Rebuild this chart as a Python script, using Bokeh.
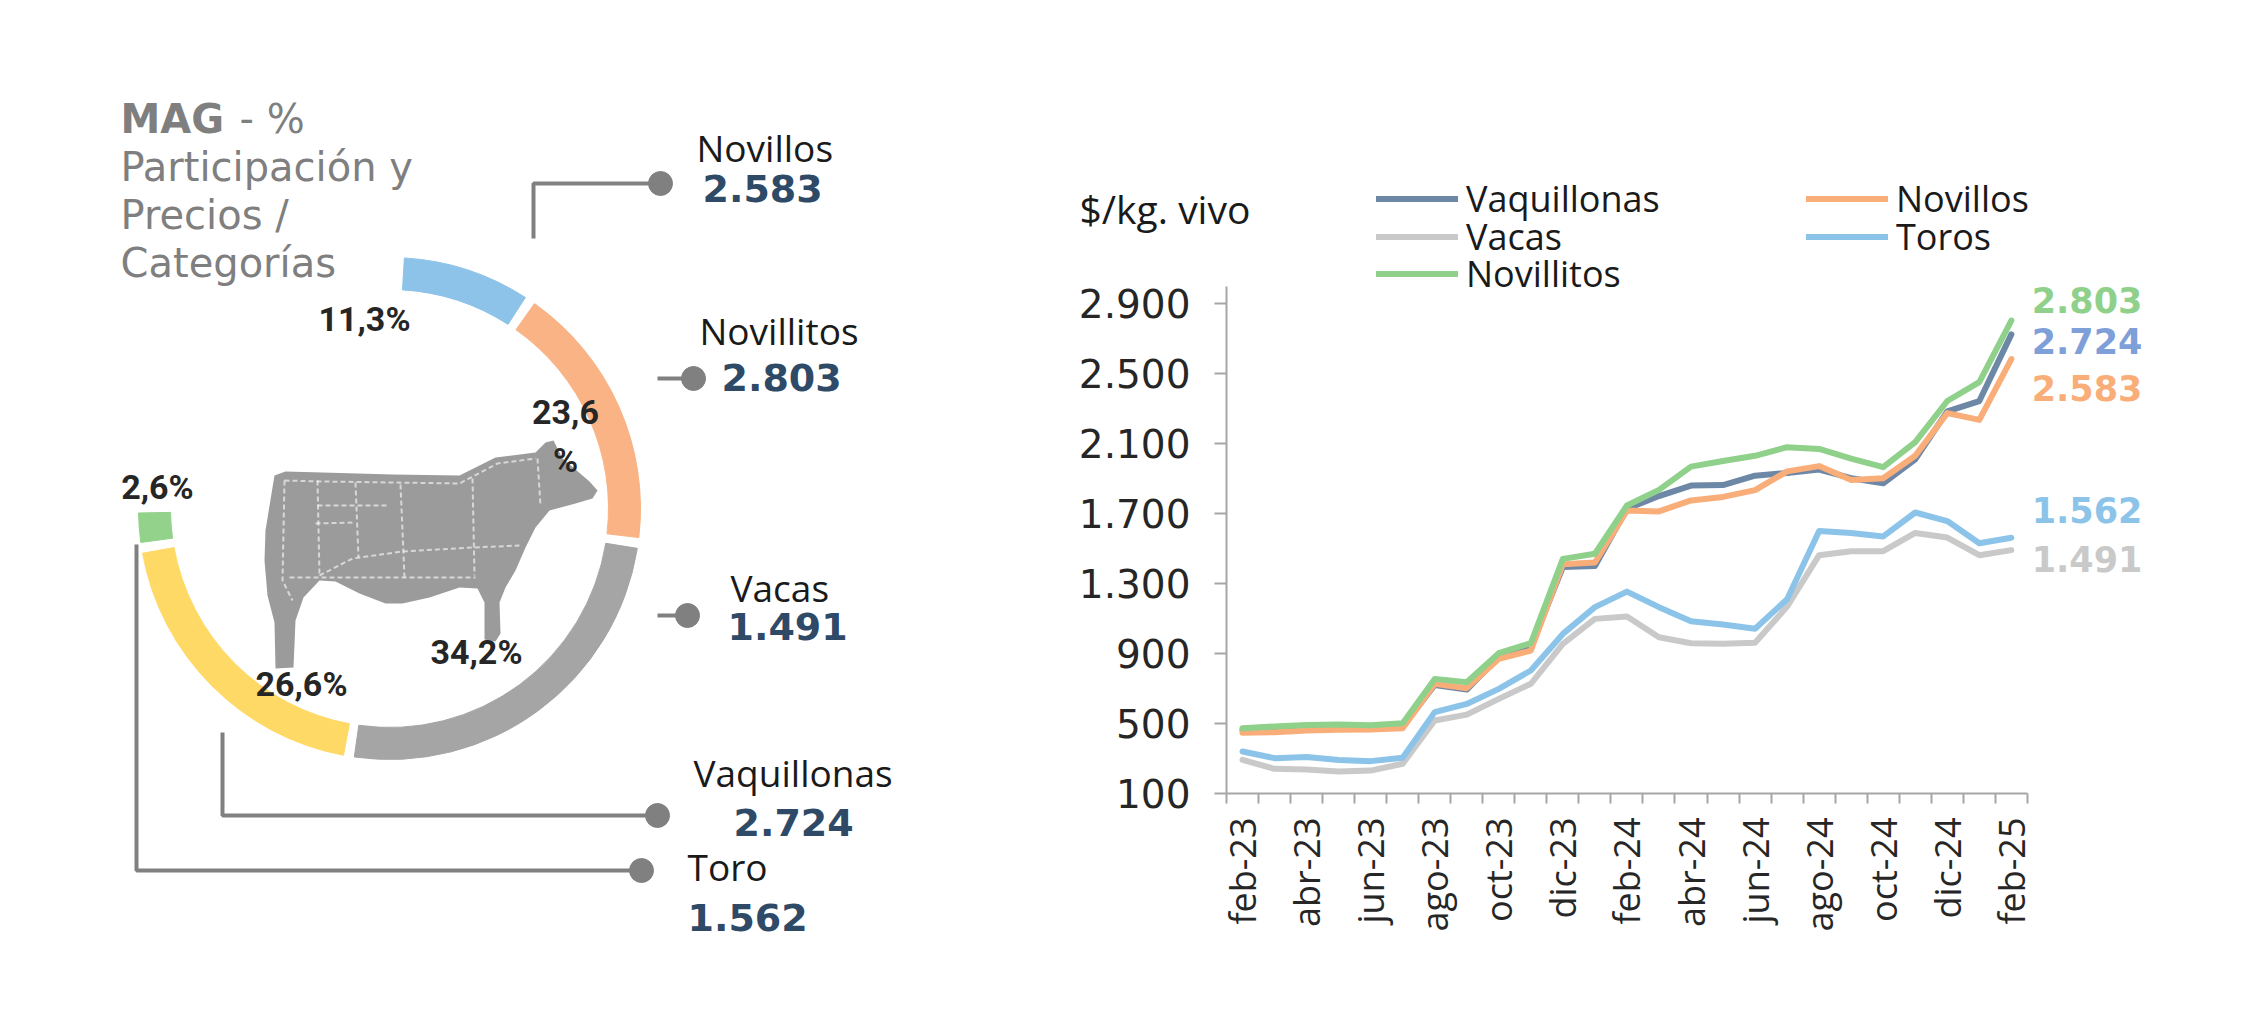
import math

from bokeh.core.properties import value
from bokeh.embed import file_html
from bokeh.layouts import row
from bokeh.models import ColumnDataSource, FixedTicker, Label, Legend, LegendItem, Range1d, Title
from bokeh.plotting import figure
from bokeh.resources import INLINE

# ─── data ───────────────────────────────────────────────────────────────────
months = ["feb-23", "mar-23", "abr-23", "may-23", "jun-23", "jul-23", "ago-23",
          "sep-23", "oct-23", "nov-23", "dic-23", "ene-24", "feb-24", "mar-24",
          "abr-24", "may-24", "jun-24", "jul-24", "ago-24", "sep-24", "oct-24",
          "nov-24", "dic-24", "ene-25", "feb-25"]

vaquillonas = [462, 468, 476, 478, 476, 482, 720, 694, 880, 935, 1395, 1400, 1727,
               1800, 1860, 1863, 1916, 1932, 1951, 1902, 1873, 2010, 2284, 2343, 2724]
novillos    = [447, 450, 460, 464, 466, 473, 727, 702, 870, 917, 1410, 1420, 1717,
               1712, 1775, 1795, 1834, 1941, 1971, 1892, 1902, 2030, 2274, 2235, 2583]
vacas       = [292, 241, 237, 226, 231, 270, 517, 551, 641, 727, 955, 1098, 1112,
               993, 959, 956, 962, 1168, 1462, 1485, 1485, 1589, 1563, 1462, 1491]
toros       = [340, 302, 308, 292, 285, 304, 565, 612, 698, 803, 1012, 1165, 1254,
               1165, 1084, 1066, 1042, 1210, 1600, 1589, 1569, 1706, 1657, 1530, 1562]
novillitos  = [473, 483, 492, 494, 490, 502, 755, 736, 902, 959, 1441, 1470, 1746,
               1835, 1968, 2000, 2030, 2079, 2069, 2014, 1965, 2108, 2343, 2451, 2803]

y_ticks = [100, 500, 900, 1300, 1700, 2100, 2500, 2900]

# donut: share of each category (%)
donut_cats  = ["Toros", "Novillos", "Vacas", "Vaquillonas", "Novillitos"]
donut_share = [11.3, 23.6, 34.2, 26.6, 2.6]

# callouts: category and price ($/kg vivo)
callout_cats   = ["Novillos", "Novillitos", "Vacas", "Vaquillonas", "Toro"]
callout_prices = [2583, 2803, 1491, 2724, 1562]


def fmt(v):
    return f"{v:,}".replace(",", ".")


# ─── styles ─────────────────────────────────────────────────────────────────
DONUT_COLORS = ["#8DC3E9", "#F9B384", "#A5A5A5", "#FFD966", "#92D28A"]
LINE_COLORS = {"Vaquillonas": "#6D87A6", "Novillos": "#F9AE7A", "Vacas": "#C9C9C9",
               "Toros": "#8CC4E9", "Novillitos": "#8FD18A"}
END_COLORS = {"Vaquillonas": "#7E9FD8", "Novillos": "#F9AE7A", "Vacas": "#C9C9C9",
              "Toros": "#8CC4E9", "Novillitos": "#8FD18A"}
AXIS_GREY = "#A6A6A6"
CALLOUT_GREY = "#808080"
VALUE_BLUE = "#2E4A66"

# ─── left panel: donut + callouts (image pixel coords, y flipped) ───────────
L = figure(width=1000, height=1018, x_range=Range1d(8, 1008), y_range=Range1d(-1018, 0),
           output_backend="svg", toolbar_location=None, min_border=0,
           x_axis_location=None, y_axis_location=None, frame_align=False)
L.grid.visible = False
L.outline_line_color = None

CX, CY, R_IN, R_OUT = 397, 508, 219, 251
K_DEG, GAP_DEG, START_DEG = 2.6, 2.5, 3.4   # degrees per %, gap, start (clockwise from top)
starts, ends = [], []
a = START_DEG
for s in donut_share:
    starts.append(math.radians(90 - a))
    a += s * K_DEG
    ends.append(math.radians(90 - a))
    a += GAP_DEG
L.annular_wedge(x=CX, y=-CY, inner_radius=R_IN, outer_radius=R_OUT,
                start_angle="start", end_angle="end", direction="clock", color="color",
                source=ColumnDataSource(dict(start=starts, end=ends, color=DONUT_COLORS)))

# cow silhouette (decoration)
cow_x = [282, 293, 330, 400, 467, 483, 503, 543, 553, 561, 570, 583, 597, 605, 600, 583,
         557, 543, 533, 523, 513, 507, 508, 503, 492, 492, 485, 467, 437, 410, 393, 367,
         343, 327, 311, 303, 301, 283, 282, 275, 272, 273, 280]
cow_y = [475, 471, 472, 474, 475, 467, 457, 452, 442, 440, 458, 469, 481, 490, 498, 503,
         510, 527, 547, 570, 587, 602, 633, 641, 639, 602, 588, 587, 597, 603, 603, 593,
         581, 580, 597, 620, 667, 668, 622, 595, 560, 530, 487]
L.patch(cow_x, [-y for y in cow_y], fill_color="#9B9B9B", line_color=None)
cut_xs = [[292, 330, 400, 467, 505, 543], [325, 327], [363, 366], [408, 412], [480, 482],
          [545, 548], [327, 360, 410, 480, 527], [325, 396], [323, 362], [297, 483],
          [292, 290, 300]]
cut_ys = [[480, 481, 482, 483, 463, 458], [480, 575], [482, 557], [484, 577], [478, 575],
          [458, 505], [575, 558, 551, 547, 545], [505, 505], [523, 522], [577, 577],
          [480, 580, 600]]
L.multi_line(cut_xs, [[-y for y in ys] for ys in cut_ys], line_color="white",
             line_alpha=0.6, line_width=2, line_dash="5 3")

# percentage labels
pct_pos = [(372, 318), (573, 435), (484, 651), (309, 683), (165, 486)]
pct_wrap = [False, True, False, False, False]
pct_text = []
for s, w in zip(donut_share, pct_wrap):
    t = f"{s:.1f}".replace(".", ",")
    pct_text.append(t + ("\n%" if w else "%"))
L.text(x=[p[0] for p in pct_pos], y=[-p[1] for p in pct_pos], text=pct_text,
       text_font=value("Roboto"), text_font_style="bold",
       text_font_size="34px", text_color="#262626", text_align="center",
       text_baseline="middle", text_line_height=1.2)

# callout lines and dots
path_xs = [[541, 541, 668], [665, 701], [665, 695], [230, 230, 665], [144, 144, 649]]
path_ys = [[238, 183, 183], [378, 378], [615, 615], [732, 815, 815], [544, 870, 870]]
L.multi_line(path_xs, [[-y for y in ys] for ys in path_ys], line_color=CALLOUT_GREY, line_width=4)
L.scatter([xs[-1] for xs in path_xs], [-ys[-1] for ys in path_ys], size=24,
          color=CALLOUT_GREY)

name_pos = [(704, 147), (707, 330), (738, 587), (701, 772), (695, 866)]
value_pos = [(710, 188), (729, 377), (735, 626), (741, 822), (695, 917)]
L.text(x=[p[0] for p in name_pos], y=[-p[1] for p in name_pos], text=callout_cats,
       text_font=value("Open Sans"), text_font_size="37px", text_color="#1A1A1A",
       text_baseline="middle")
L.text(x=[p[0] for p in value_pos], y=[-p[1] for p in value_pos],
       text=[fmt(v) for v in callout_prices], text_font=value("DejaVu Sans"),
       text_font_style="bold", text_font_size="38px", text_color=VALUE_BLUE,
       text_baseline="middle")

# title
L.text(x=[128], y=[-118], text=["MAG"], text_font=value("DejaVu Sans"), text_font_style="bold",
       text_font_size="40px", text_color="#7F7F7F", text_baseline="middle")
L.text(x=[247, 128, 128, 128], y=[-118, -166, -214, -262],
       text=["- %", "Participación  y", "Precios /", "Categorías"],
       text_font=value("DejaVu Sans"), text_font_size="40px", text_color="#7F7F7F",
       text_baseline="middle")

# ─── right panel: price lines ───────────────────────────────────────────────
# frame extends above/right of the axes so legend and end labels stay inside it
R = figure(width=1226, height=1018, x_range=Range1d(-0.5, 28.5), y_range=Range1d(100, 3649),
           output_backend="svg", toolbar_location=None, frame_align=False,
           min_border_left=226, min_border_right=71, min_border_top=172, min_border_bottom=225)
R.grid.visible = False
R.outline_line_color = None

src = ColumnDataSource(dict(x=list(range(len(months))), Vaquillonas=vaquillonas,
                            Novillos=novillos, Vacas=vacas, Toros=toros, Novillitos=novillitos))
series = {"Vaquillonas": vaquillonas, "Novillos": novillos, "Vacas": vacas,
          "Toros": toros, "Novillitos": novillitos}
renderers = {}
for name in ["Vacas", "Toros", "Vaquillonas", "Novillos", "Novillitos"]:
    renderers[name] = R.line("x", name, source=src, line_width=6, color=LINE_COLORS[name],
                             line_join="round", line_cap="round")

xa = R.xaxis[0]
xa.bounds = (-0.5, len(months) - 0.5)
xa.ticker = FixedTicker(ticks=list(range(0, 25, 2)), minor_ticks=[i - 0.5 for i in range(26)])
xa.major_label_overrides = {i: months[i] for i in range(0, 25, 2)}
xa.major_label_orientation = math.pi / 2
xa.major_tick_line_color = None
xa.major_tick_out = 10
xa.major_tick_in = 0
xa.minor_tick_out = 10
xa.minor_tick_in = 0
xa.minor_tick_line_color = AXIS_GREY
xa.minor_tick_line_width = 2
xa.major_label_standoff = 14
xa.major_label_text_font = "Open Sans"
xa.major_label_text_font_size = "36px"
xa.major_label_text_color = "#262626"

ya = R.yaxis[0]
ya.bounds = (100, 3000)
ya.ticker = FixedTicker(ticks=y_ticks)
ya.major_label_overrides = {t: fmt(t) for t in y_ticks}
ya.major_tick_out = 12
ya.major_tick_in = 0
ya.major_tick_line_color = AXIS_GREY
ya.major_tick_line_width = 2
ya.minor_tick_line_color = None
ya.major_label_standoff = 24
ya.major_label_text_font = "DejaVu Sans"
ya.major_label_text_font_size = "39px"
ya.major_label_text_color = "#262626"

for ax in (xa, ya):
    ax.axis_line_color = AXIS_GREY
    ax.axis_line_width = 2

# legend: one single-item legend per slot, two columns as in the original
legend_style = dict(label_text_font="Open Sans", label_text_font_size="36px",
                    label_text_color="#1A1A1A", glyph_width=82, glyph_height=37,
                    label_height=37, spacing=0, padding=0, margin=0, label_standoff=8,
                    border_line_color=None, background_fill_alpha=0)
legend_slots = {"Vaquillonas": (150, 570), "Vacas": (150, 532), "Novillitos": (150, 495),
                "Novillos": (580, 570), "Toros": (580, 532)}
for name, loc in legend_slots.items():
    R.add_layout(Legend(items=[LegendItem(label=name, renderers=[renderers[name]])],
                        location=loc, **legend_style))

# end-of-line value labels
end_label_y = {"Novillitos": 2923, "Vaquillonas": 2688, "Novillos": 2420,
               "Toros": 1723, "Vacas": 1443}
for name, ly in end_label_y.items():
    R.add_layout(Label(x=len(months) - 1, y=ly, x_offset=131, text=fmt(series[name][-1]),
                       text_font="DejaVu Sans", text_font_style="bold",
                       text_font_size="35px", text_color=END_COLORS[name],
                       text_align="right", text_baseline="middle"))

R.add_layout(Title(text="$/kg. vivo", align="left", offset=-147, standoff=-125,
                   text_font="Open Sans", text_font_style="normal", text_font_size="39px",
                   text_color="#1A1A1A"), "above")

layout = row(L, R)
open("out.html", "w").write(file_html(layout, INLINE))
